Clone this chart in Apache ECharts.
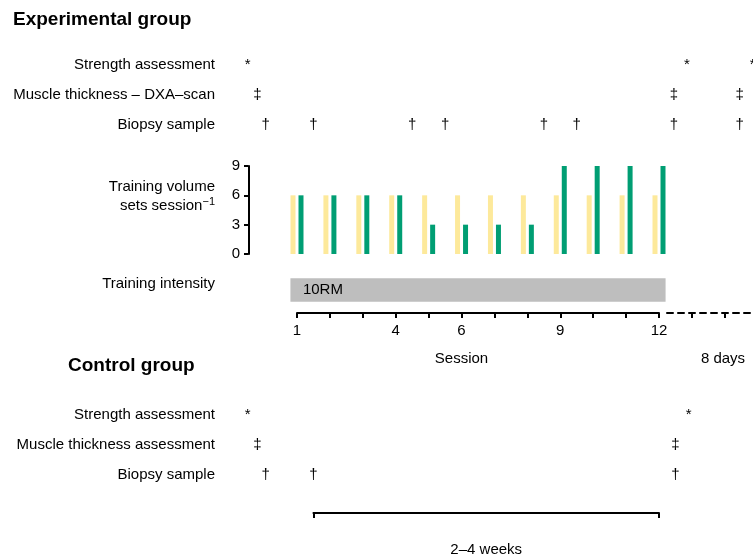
<!DOCTYPE html>
<html><head><meta charset="utf-8">
<script src="https://cdn.jsdelivr.net/npm/echarts@6/dist/echarts.min.js"></script>
<style>html,body{margin:0;padding:0;background:#fff}#c{width:753px;height:558px}</style>
</head><body><div id="c"></div>
<script>
// ---- data ----
const sessions = [1,2,3,4,5,6,7,8,9,10,11,12];
const setsYellow = [6,6,6,6,6,6,6,6,6,6,6,6];
const setsGreen  = [6,6,6,6,3,3,3,3,9,9,9,9];
const volumeTicks = [0,3,6,9];
const sessionTickLabels = [1,4,6,9,12];
const postTicks = [13,14];
const expRows  = ['Strength assessment','Muscle thickness – DXA–scan','Biopsy sample'];
const ctrlRows = ['Strength assessment','Muscle thickness assessment','Biopsy sample'];
const expStrength = [-0.5, 12.85, 14.85];
const expMuscle   = [-0.2, 12.45, 14.45];
const expBiopsy   = [0.05, 1.5, 4.5, 5.5, 8.5, 9.5, 12.45, 14.45];
const ctrlStrength = [-0.5, 12.9];
const ctrlMuscle   = [-0.2, 12.5];
const ctrlBiopsy   = [0.05, 1.5, 12.5];
const intensityRange = [0.8, 12.2];
const intensityText = '10RM';
const bracketRange = [1.5, 12];
const markerChars = ['*','‡','†'];

// ---- style ----
const FONT = "'Liberation Sans', Arial, sans-serif";
const YELLOW = '#FDE99B', GREEN = '#009E73', GREY = '#BEBEBE';
const FS = 15;

const chart = echarts.init(document.getElementById('c'), null, {renderer:'canvas'});

function hiddenX(gi){ return {gridIndex:gi, type:'value', min:1, max:12, show:false}; }

function markerSeries(gi, rowIdx, xs){
  return {type:'custom', xAxisIndex:gi, yAxisIndex:gi, silent:true, clip:false,
    data: xs.map(x=>[x,rowIdx]),
    renderItem:(params, api)=>{
      const p = api.coord([api.value(0), api.value(1)]);
      return {type:'text', x:p[0], y:p[1], style:{text:markerChars[rowIdx], fontSize:FS, fontFamily:FONT, fill:'#000', align:'center', verticalAlign:'middle'}};
    }};
}

const rowAxis = (gi, rows) => ({gridIndex:gi, type:'category', data:rows, inverse:true, offset:74,
  axisLine:{show:false}, axisTick:{show:false}, splitLine:{show:false},
  axisLabel:{margin:8, fontSize:FS, fontFamily:FONT, color:'#000'}});

const option = {
  animation:false,
  backgroundColor:'#fff',
  title:[
    {text:'Experimental group', left:13, top:10, padding:0, textStyle:{fontSize:19, fontWeight:'bold', color:'#000', fontFamily:FONT}},
    {text:'Control group', left:68, top:356, padding:0, textStyle:{fontSize:19, fontWeight:'bold', color:'#000', fontFamily:FONT}}
  ],
  grid:[
    {left:297, right:94, top:50, height:90},    // 0 exp markers
    {left:297, right:94, top:166, height:88},   // 1 volume
    {left:297, right:94, top:273, height:22},   // 2 intensity
    {left:297, right:94, top:303, height:10},   // 3 session axis
    {left:667, right:0, top:303, height:10},    // 4 dashed continuation
    {left:297, right:94, top:400, height:90},   // 5 ctrl markers
    {left:313.45, right:94, top:509, height:10} // 6 bracket
  ],
  xAxis:[
    hiddenX(0), hiddenX(1), hiddenX(2),
    {gridIndex:3, type:'value', min:1, max:12, interval:1, position:'bottom',
      name:'Session', nameLocation:'middle', nameGap:38,
      nameTextStyle:{fontSize:FS, fontFamily:FONT, color:'#000', padding:[0,33,0,0]},
      axisLine:{lineStyle:{color:'#000', width:2}},
      axisTick:{length:5, lineStyle:{color:'#000', width:2}, customValues:sessions},
      axisLabel:{customValues:sessionTickLabels, margin:10, fontSize:FS, fontFamily:FONT, color:'#000'},
      splitLine:{show:false}},
    {gridIndex:4, type:'value', min:12.243, max:14.857, position:'bottom',
      name:'8 days', nameLocation:'middle', nameGap:38,
      nameTextStyle:{fontSize:FS, fontFamily:FONT, color:'#000', padding:[0,0,0,26]},
      axisLine:{lineStyle:{color:'#000', width:2, type:[6,5]}},
      axisTick:{length:5, lineStyle:{color:'#000', width:2, type:'dashed'}, customValues:postTicks},
      axisLabel:{show:false}, splitLine:{show:false}},
    hiddenX(5),
    {gridIndex:6, type:'value', min:bracketRange[0], max:bracketRange[1], position:'bottom',
      name:'2–4 weeks', nameLocation:'middle', nameGap:29,
      nameTextStyle:{fontSize:FS, fontFamily:FONT, color:'#000'},
      axisLine:{lineStyle:{color:'#000', width:2}},
      axisTick:{length:5, lineStyle:{color:'#000', width:2}, customValues:bracketRange},
      axisLabel:{show:false}, splitLine:{show:false}}
  ],
  yAxis:[
    rowAxis(0, expRows),
    {gridIndex:1, type:'value', min:0, max:9, interval:3, offset:48.5,
      axisLine:{show:true, lineStyle:{color:'#000', width:2}},
      axisTick:{show:true, length:4.5, lineStyle:{color:'#000', width:2}},
      axisLabel:{margin:8.5, fontSize:FS, fontFamily:FONT, color:'#000', customValues:volumeTicks},
      splitLine:{show:false}},
    {gridIndex:2, type:'category', data:['Training intensity'], offset:74,
      axisLine:{show:false}, axisTick:{show:false}, splitLine:{show:false},
      axisLabel:{margin:8, fontSize:FS, fontFamily:FONT, color:'#000'}},
    {gridIndex:3, type:'value', show:false},
    {gridIndex:4, type:'value', show:false},
    rowAxis(5, ctrlRows),
    {gridIndex:6, type:'value', show:false}
  ],
  graphic:[
    {type:'text', x:215, y:187, style:{text:'Training volume', fontSize:FS, fontFamily:FONT, fill:'#000', align:'right', verticalAlign:'middle'}},
    {type:'text', x:215, y:205, style:{text:'{a|sets session}{s|−1}', align:'right', verticalAlign:'middle',
      rich:{a:{fontSize:FS, fontFamily:FONT, fill:'#000', verticalAlign:'bottom'}, s:{fontSize:11, fontFamily:FONT, fill:'#000', verticalAlign:'top', padding:[0,0,6,0]}}}}
  ],
  series:[
    markerSeries(0, 0, expStrength),
    markerSeries(0, 1, expMuscle),
    markerSeries(0, 2, expBiopsy),
    markerSeries(5, 0, ctrlStrength),
    markerSeries(5, 1, ctrlMuscle),
    markerSeries(5, 2, ctrlBiopsy),
    {type:'custom', xAxisIndex:1, yAxisIndex:1, silent:true, clip:false,
      data: sessions.map((s,i)=>[s, setsYellow[i], setsGreen[i]]),
      encode:{x:0, y:[1,2]},
      renderItem:(params, api)=>{
        const s = api.value(0);
        const b = api.coord([s,0]);
        const py = api.coord([s, api.value(1)]);
        const pg = api.coord([s, api.value(2)]);
        return {type:'group', children:[
          {type:'rect', shape:{x:b[0]-4-2.5, y:py[1], width:5, height:b[1]-py[1]}, style:{fill:YELLOW}},
          {type:'rect', shape:{x:b[0]+4-2.5, y:pg[1], width:5, height:b[1]-pg[1]}, style:{fill:GREEN}}
        ]};
      }},
    {type:'custom', xAxisIndex:2, yAxisIndex:2, silent:true, clip:false,
      data:[[intensityRange[0], 0, intensityRange[1]]],
      encode:{x:[0,2], y:1},
      renderItem:(params, api)=>{
        const p1 = api.coord([api.value(0), 0]);
        const p2 = api.coord([api.value(2), 0]);
        const cy = p1[1];
        return {type:'group', children:[
          {type:'rect', shape:{x:p1[0], y:cy-5.7, width:p2[0]-p1[0], height:23.4}, style:{fill:GREY}},
          {type:'text', x:p1[0]+12.5, y:cy+6, style:{text:intensityText, fontSize:FS, fontFamily:FONT, fill:'#000', align:'left', verticalAlign:'middle'}}
        ]};
      }}
  ]
};
chart.setOption(option);
</script></body></html>
